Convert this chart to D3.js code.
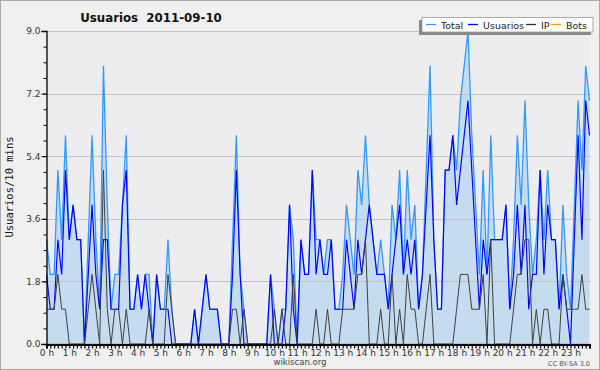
<!DOCTYPE html>
<html><head><meta charset="utf-8">
<script src="https://cdn.jsdelivr.net/npm/d3@7"></script>
<style>
html,body{margin:0;padding:0;background:#f0f0f0;}
svg{display:block;font-family:"DejaVu Sans",sans-serif;}
</style></head>
<body>
<svg id="c" width="600" height="370"></svg>
<script>
// 10-minute slots, 0h..23h50
const usuarios = [
 2,1,1,3,2,5,3,4,3,3, 0,2,4,2,1,3,3,1,1,1, 4,5,1,1,2,1,2,1,0,2, 1,1,1,0,0,0,
 0,0,0,1,0,1,2,1,1,1, 0,0,0,2,5,2,0,0,0,0, 0,0,0,2,0,0,0,1,4,1, 0,3,2,2,5,2,
 3,2,2,3,1,1,1,3,2,1, 3,2,3,4,3,2,2,2,1,2, 3,4,2,3,2,3,1,2,4,6, 3,1,1,5,5,6,
 4,5,6,7,5,3,1,3,2,3, 3,3,3,4,1,2,4,2,4,1, 2,2,5,2,4,3,3,1,2,1, 0,3,6,3,7,6
];
const ip = [
 1,1,1,2,1,1,0,0,0,0, 0,1,2,1,0,5,1,0,1,1, 0,1,0,0,0,0,0,1,0,0, 0,0,2,1,0,0,
 0,0,0,0,0,0,0,0,0,0, 0,0,0,1,1,0,1,0,0,0, 0,0,0,0,1,0,1,0,0,2, 0,0,0,0,0,1,
 0,0,1,0,0,0,1,1,1,1, 2,2,3,0,0,0,1,0,0,2, 0,1,0,2,1,1,0,0,1,2, 0,0,0,0,0,0,
 1,2,2,2,1,1,1,2,0,3, 0,0,0,0,0,1,2,2,3,3, 0,1,0,1,1,0,0,0,2,1, 1,1,1,2,1,1
];
const total = [
 3,2,2,5,3,6,3,4,3,3, 0,3,6,3,1,8,4,1,2,2, 4,6,1,1,2,1,2,2,0,2, 1,1,3,1,0,0,
 0,0,0,1,0,1,2,1,1,1, 0,0,0,3,6,2,1,0,0,0, 0,0,0,2,1,0,1,1,4,3, 0,3,2,2,5,3,
 3,2,3,3,1,1,2,4,3,2, 5,4,6,4,3,2,3,2,1,4, 3,5,2,5,3,4,1,2,5,8, 3,1,1,5,5,6,
 5,7,8,9,6,4,2,5,2,6, 3,3,3,4,1,3,6,4,7,4, 2,3,5,3,5,3,3,1,4,2, 1,4,7,5,8,7
];
const bots = new Array(144).fill(0);
const hourLabels = d3.range(24).map(h => h + " h");
const yTicks = [0, 1.8, 3.6, 5.4, 7.2, 9.0];
const legendNames = ["Total", "Usuarios", "IP", "Bots"];
const legendColors = ["#3399ff", "#0000ff", "#333333", "#ff9900"];

const svg = d3.select("#c");
const W = 600, H = 370;
const x = d3.scaleLinear().domain([0, 143]).range([46.5, 589.5]);
const y = d3.scaleLinear().domain([0, 9]).range([344, 31]);

// frame
svg.append("rect").attr("x",0.5).attr("y",0.5).attr("width",W-1).attr("height",H-1)
  .attr("fill","#f0f0f0").attr("stroke","#aaaaaa");
svg.append("rect").attr("x",x(0)).attr("y",y(9)).attr("width",x(143)-x(0)).attr("height",y(0)-y(9))
  .attr("fill","#ededef");

// area under total
svg.append("path").datum(total)
  .attr("fill","#c5dcf0")
  .attr("d", d3.area().x((d,i)=>x(i)).y0(y(0)).y1(d=>y(d)));

// grid
svg.append("g").selectAll("line").data(yTicks.slice(1)).join("line")
  .attr("x1", x(0)).attr("x2", x(143)+1)
  .attr("y1", d=>Math.round(y(d))+0.5).attr("y2", d=>Math.round(y(d))+0.5)
  .attr("stroke","#c4c4c4").attr("stroke-width",1);

const line = d3.line().x((d,i)=>x(i)).y(d=>y(d));
svg.append("path").datum(bots).attr("fill","none").attr("stroke",legendColors[3]).attr("stroke-width",1).attr("d",line);
svg.append("path").datum(total).attr("fill","none").attr("stroke",legendColors[0]).attr("stroke-width",1.3).attr("d",line);
svg.append("path").datum(usuarios).attr("fill","none").attr("stroke",legendColors[1]).attr("stroke-width",1.15).attr("d",line);
svg.append("path").datum(ip).attr("fill","none").attr("stroke","#404040").attr("stroke-width",1).attr("d",line);

// y axis
const yAxis = svg.append("g").attr("transform","translate(46.5,0)")
  .call(d3.axisLeft(y).tickValues(yTicks).tickFormat(d3.format(".1f")).tickSize(5).tickPadding(1));
svg.append("g").attr("transform","translate(46.5,0)")
  .call(d3.axisLeft(y).tickValues(d3.range(0, 9.01, 0.45)).tickFormat("").tickSize(3))
  .select(".domain").remove();
yAxis.selectAll("text").attr("font-size",9).attr("fill","#333").attr("font-family","DejaVu Sans");
yAxis.select(".domain").attr("stroke","#000").attr("stroke-width",1.3);

// x axis
const xAxis = svg.append("g").attr("transform","translate(0,344.5)")
  .call(d3.axisBottom(x).tickValues(d3.range(0,144)).tickSizeOuter(0).tickSize(4)
    .tickFormat((d)=> d % 6 === 0 ? hourLabels[d/6] : ""));
xAxis.select(".domain").attr("stroke","#000").attr("stroke-width",2);
xAxis.selectAll("line").attr("stroke","#000").attr("stroke-width",1.2);
xAxis.selectAll("text").attr("font-size",9).attr("fill","#333").attr("font-family","DejaVu Sans").attr("dy","0.55em");

// titles
svg.append("text").attr("x",151).attr("y",21.5).attr("text-anchor","middle")
  .attr("font-size",11.8).attr("font-weight","bold").attr("fill","#111")
  .text("Usuarios  2011-09-10").style("white-space","pre");
svg.append("text").attr("transform","translate(13,187) rotate(-90)").attr("text-anchor","middle")
  .attr("font-family","DejaVu Sans Mono").attr("font-size",10.5).attr("fill","#111")
  .text("Usuarios/10 mins");
svg.append("text").attr("x",300).attr("y",365).attr("text-anchor","middle")
  .attr("font-size",8.5).attr("fill","#444").text("wikiscan.org");
svg.append("text").attr("x",590).attr("y",366).attr("text-anchor","end")
  .attr("font-size",6.5).attr("fill","#555").text("CC BY-SA 3.0");

// legend
const lg = svg.append("g");
lg.append("rect").attr("x",419).attr("y",20).attr("width",172).attr("height",15).attr("fill","#888");
lg.append("rect").attr("x",422).attr("y",17.5).attr("width",171).attr("height",14.5)
  .attr("fill","#fff").attr("stroke","#999").attr("stroke-width",0.8);
const lx = [426, 468, 526, 551];
legendNames.forEach((n,k)=>{
  lg.append("line").attr("x1",lx[k]).attr("x2",lx[k]+10).attr("y1",24.5).attr("y2",24.5)
    .attr("stroke",legendColors[k]).attr("stroke-width",1.3);
  lg.append("text").attr("x",lx[k]+15).attr("y",28.5).attr("font-size",9.5).attr("fill","#222").text(n);
});
</script>
</body></html>
